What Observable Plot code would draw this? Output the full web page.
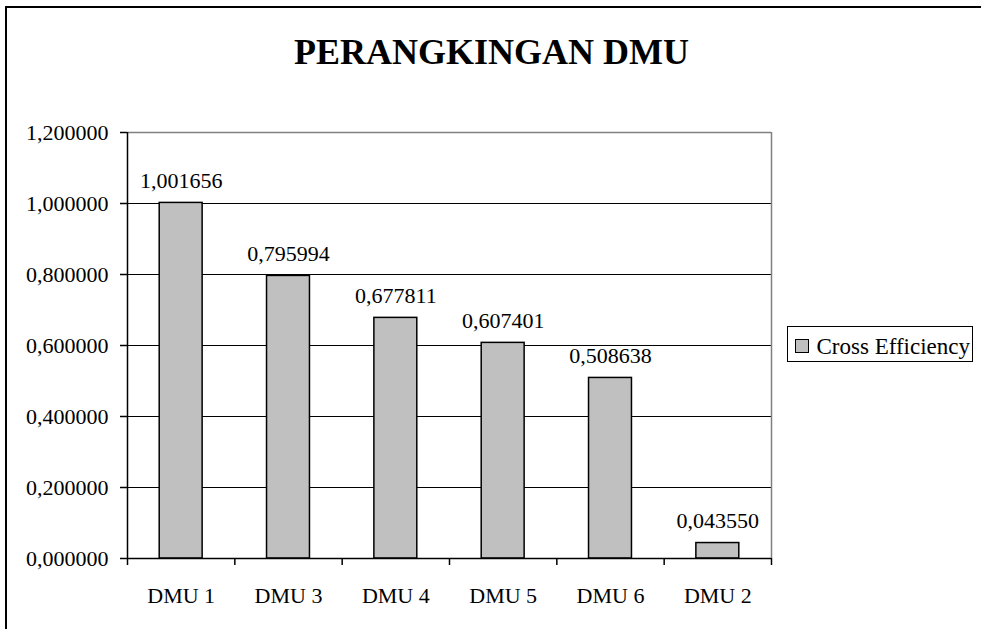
<!DOCTYPE html>
<html>
<head>
<meta charset="utf-8">
<script src="https://cdn.jsdelivr.net/npm/d3@7"></script>
<script src="https://cdn.jsdelivr.net/npm/@observablehq/plot@0.6"></script>
<style>
  body { margin: 0; background: #fff; }
  #wrap { position: relative; width: 981px; height: 629px; overflow: hidden; background: #fff;
          font-family: "Liberation Serif", "Times New Roman", serif; color: #000; }
  #frame { position: absolute; left: 5px; top: 6px; width: 1200px; height: 900px;
           border-left: 2px solid #000; border-top: 2px solid #000; }
  #title { position: absolute; left: 1px; width: 981px; top: 34px; text-align: center;
           font-weight: bold; font-size: 36px; line-height: 36px; white-space: nowrap; }
  #chart { position: absolute; left: 0; top: 0; }
  #legend { position: absolute; left: 787px; top: 326px; width: 186px; height: 36px;
            box-sizing: border-box; border: 1.5px solid #000; background: #fff; }
  #legend .sw { position: absolute; left: 7px; top: 11.5px; width: 14px; height: 14px;
                box-sizing: border-box; border: 1px solid #000; background: #C0C0C0; }
  #legend .lb { position: absolute; left: 28.5px; top: 7.5px; font-size: 23px; line-height: 23px;
                white-space: nowrap; }
</style>
</head>
<body>
<div id="wrap">
  <div id="frame"></div>
  <div id="chart"></div>
  <div id="title"></div>
  <div id="legend"><div class="sw"></div><div class="lb"></div></div>
</div>
<script>
const chartTitle = "PERANGKINGAN DMU";
const seriesName = "Cross Efficiency";
const categories = ["DMU 1", "DMU 3", "DMU 4", "DMU 5", "DMU 6", "DMU 2"];
const values = [1.001656, 0.795994, 0.677811, 0.607401, 0.508638, 0.043550];
const yTicks = [0, 0.2, 0.4, 0.6, 0.8, 1.0, 1.2];

const fmt = v => d3.format(".6f")(v).replace(".", ",");
const data = categories.map((c, i) => ({ c, i, v: values[i] }));
const n = categories.length;

document.getElementById("title").textContent = chartTitle;
document.querySelector("#legend .lb").textContent = seriesName;

const chart = Plot.plot({
  width: 981,
  height: 629,
  marginLeft: 127,
  marginRight: 210,
  marginTop: 132,
  marginBottom: 71,
  style: { fontFamily: "'Liberation Serif', 'Times New Roman', serif", fontSize: "22px", background: "transparent", color: "#000", overflow: "visible" },
  x: { type: "linear", domain: [0, n] },
  y: { domain: [0, 1.2] },
  marks: [
    Plot.ruleY(yTicks.slice(1, -1), { stroke: "#000", strokeWidth: 1 }),
    Plot.ruleY([yTicks[yTicks.length - 1]], { stroke: "#808080", strokeWidth: 1.5 }),
    Plot.ruleX([n], { stroke: "#808080", strokeWidth: 1.5 }),
    Plot.rectY(data, { x1: d => d.i + 0.3, x2: d => d.i + 0.7, y1: 0, y2: "v",
                       fill: "#C0C0C0", stroke: "#000", strokeWidth: 1.5 }),
    Plot.text(data, { x: d => d.i + 0.5, y: "v", text: d => fmt(d.v), lineAnchor: "bottom",
                      dy: -15, fontSize: 22, fill: "#000" }),
    Plot.axisY({ ticks: yTicks, tickFormat: fmt, tickSize: 7, tickPadding: 12, stroke: "#000",
                 strokeWidth: 1.5, fontSize: 22, label: null }),
    Plot.axisX({ ticks: d3.range(n + 1), tickFormat: () => "", tickSize: 7, stroke: "#000",
                 strokeWidth: 1.5, label: null }),
    Plot.axisX({ ticks: categories.map((c, i) => i + 0.5), tickFormat: d => categories[Math.floor(d)],
                 tickSize: 0, tickPadding: 29, fontSize: 22, label: null }),
    Plot.ruleX([0], { stroke: "#000", strokeWidth: 1.5 }),
    Plot.ruleY([0], { stroke: "#000", strokeWidth: 1.5 })
  ]
});
document.getElementById("chart").appendChild(chart);
</script>
</body>
</html>
